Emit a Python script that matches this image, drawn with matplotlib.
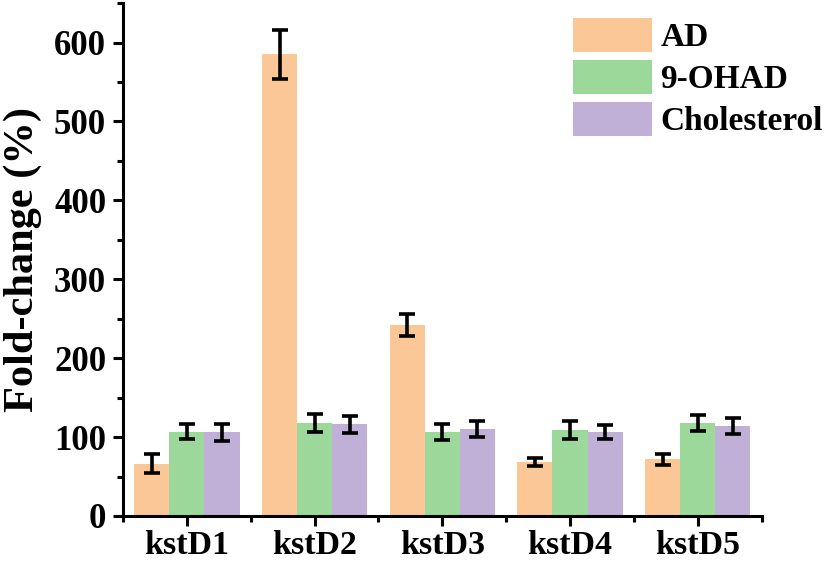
import matplotlib
matplotlib.use("Agg")
import matplotlib.pyplot as plt
import numpy as np
from matplotlib.ticker import MultipleLocator, FixedLocator

categories = ["kstD1", "kstD2", "kstD3", "kstD4", "kstD5"]
series_names = ["AD", "9-OHAD", "Cholesterol"]
ad_vals = [66, 585, 242, 68, 72]
ad_err = [12, 31, 14, 5, 7]
ohad_vals = [107, 118, 106, 109, 118]
ohad_err = [10, 11, 10, 12, 10]
chol_vals = [106, 116, 110, 106, 114]
chol_err = [11, 11, 10, 9, 10]
yticks = [0, 100, 200, 300, 400, 500, 600]
colors = ["#FBC796", "#9DD89B", "#C0AFD7"]

plt.rcParams['font.family'] = ['Liberation Serif', 'DejaVu Serif']
plt.rcParams['font.weight'] = 'bold'

fig = plt.figure(figsize=(8.26, 5.63), dpi=100)
ax = fig.add_axes([0.149, 0.0835, 0.773, 0.911])

x = np.arange(len(categories))
w = 0.275
vals = [ad_vals, ohad_vals, chol_vals]
errs = [ad_err, ohad_err, chol_err]
for i, (v, e, c, n) in enumerate(zip(vals, errs, colors, series_names)):
    ax.bar(x + (i - 1) * w, v, w, color=c, label=n, linewidth=0, zorder=2)
    ax.errorbar(x + (i - 1) * w, v, yerr=e, fmt='none', ecolor='black',
                elinewidth=2.6, capsize=5.5, capthick=2.6, zorder=3)

ax.set_xlim(-0.5, 4.5)
ax.set_ylim(0, 650)
ax.set_xticks(x)
ax.set_xticklabels(categories, fontsize=24.5, fontweight='bold')
ax.xaxis.set_minor_locator(FixedLocator(np.arange(-0.5, 5, 1.0)))
ax.yaxis.set_major_locator(FixedLocator(yticks))
ax.yaxis.set_minor_locator(MultipleLocator(50))
for lab in ax.get_yticklabels():
    lab.set_fontsize(25)
    lab.set_fontweight('bold')
ax.tick_params(axis='both', which='major', direction='out', length=7.2, width=2.2)
ax.tick_params(axis='y', which='major', pad=5)
ax.tick_params(axis='x', which='major', pad=3)
ax.tick_params(axis='both', which='minor', direction='out', length=4, width=2.2)
ax.spines['top'].set_visible(False)
ax.spines['right'].set_visible(False)
ax.spines['left'].set_linewidth(2.2)
ax.spines['bottom'].set_linewidth(2.2)
ax.set_ylabel("Fold-change (%)", fontsize=30.5, fontweight='bold')
ax.yaxis.set_label_coords(-0.127, 0.5)

leg = fig.legend(loc='upper left', bbox_to_anchor=(573 / 826, 1 - 18 / 563),
                 frameon=False, fontsize=24, handlelength=2.37, handleheight=1.2,
                 labelspacing=0.2, handletextpad=0.25, borderpad=0, borderaxespad=0)

fig.savefig("out.png", dpi=100)
